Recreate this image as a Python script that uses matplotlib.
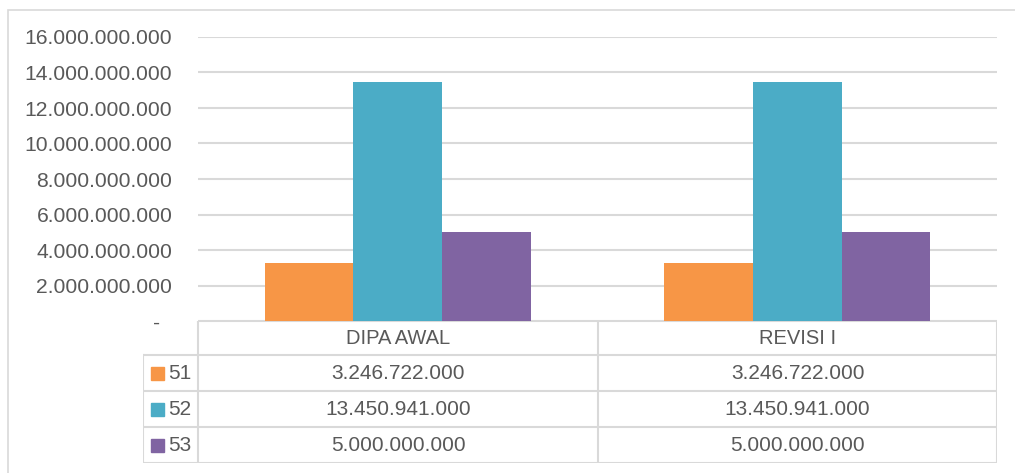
import matplotlib
matplotlib.use('Agg')
import matplotlib.pyplot as plt
from matplotlib.patches import Rectangle
from matplotlib.ticker import FuncFormatter
import numpy as np

categories = ['DIPA AWAL', 'REVISI I']
series_names = ['51', '52', '53']
values_51 = [3246722000, 3246722000]
values_52 = [13450941000, 13450941000]
values_53 = [5000000000, 5000000000]
colors = ['#F79646', '#4BACC6', '#8064A2']

plt.rcParams['font.family'] = ['Liberation Sans', 'DejaVu Sans']
TXT = '#595959'
GRID = '#D9D9D9'
W, H = 1015, 473


def fmt_id(v):
    # Indonesian thousands separator
    return '{:,.0f}'.format(v).replace(',', '.')


fig = plt.figure(figsize=(W / 100, H / 100), dpi=100)

# outer chart frame (only left/top visible in the crop)
fig.add_artist(Rectangle((8 / W, -0.1), 1.2, (H - 10) / H + 0.1, transform=fig.transFigure,
                         fill=False, edgecolor=GRID, linewidth=1.2))

# plot area
x0, x1, ytop, ybot = 198, 997, 37, 321
ax = fig.add_axes([x0 / W, (H - ybot) / H, (x1 - x0) / W, (ybot - ytop) / H])
all_vals = [values_51, values_52, values_53]
x = np.arange(len(categories))
bw = 0.2216
for i, (vals, c) in enumerate(zip(all_vals, colors)):
    ax.bar(x + (i - 1) * bw, vals, width=bw, color=c, zorder=3)
ax.set_xlim(-0.5, len(categories) - 0.5)
ax.set_ylim(0, 16e9)
ax.set_yticks(np.arange(0, 16e9 + 1, 2e9))
ax.yaxis.set_major_formatter(FuncFormatter(lambda v, p: '-  ' if v == 0 else fmt_id(v)))
ax.tick_params(axis='y', length=0, pad=18.5, labelsize=15.2, labelcolor=TXT)
ax.set_xticks([])
ax.grid(axis='y', color=GRID, linewidth=1.5, zorder=0)
for s in ax.spines.values():
    s.set_visible(False)
ax.patch.set_alpha(0)

# data table
tx0, tx1, ty0, ty1 = 143, 997, 321, 463
tax = fig.add_axes([tx0 / W, (H - ty1) / H, (tx1 - tx0) / W, (ty1 - ty0) / H])
tax.set_xlim(tx0, tx1)
tax.set_ylim(ty1, ty0)
tax.axis('off')
col_edges = [143, 198, 598, 997]
row_edges = [321, 355, 391, 427, 463]
lw = 1.5
# header row: only category columns
tax.plot([198, 997], [321, 321], color=GRID, lw=lw)
for xe in [198, 598, 997]:
    tax.plot([xe, xe], [321, 463], color=GRID, lw=lw)
tax.plot([143, 143], [355, 463], color=GRID, lw=lw)
for ye in row_edges[1:]:
    tax.plot([143, 997], [ye, ye], color=GRID, lw=lw)

for j, cat in enumerate(categories):
    cx = (col_edges[j + 1] + col_edges[j + 2]) / 2
    tax.text(cx, (321 + 355) / 2, cat, ha='center', va='center', fontsize=14.5, color=TXT)
for i, (name, vals, c) in enumerate(zip(series_names, all_vals, colors)):
    cy = (row_edges[i + 1] + row_edges[i + 2]) / 2
    tax.add_patch(Rectangle((151, cy - 6), 12.5, 12.5, color=c))
    tax.text(168, cy, name, ha='left', va='center', fontsize=15, color=TXT)
    for j, v in enumerate(vals):
        cx = (col_edges[j + 1] + col_edges[j + 2]) / 2
        tax.text(cx, cy, fmt_id(v), ha='center', va='center', fontsize=15, color=TXT)

fig.savefig('out.png', dpi=100)
